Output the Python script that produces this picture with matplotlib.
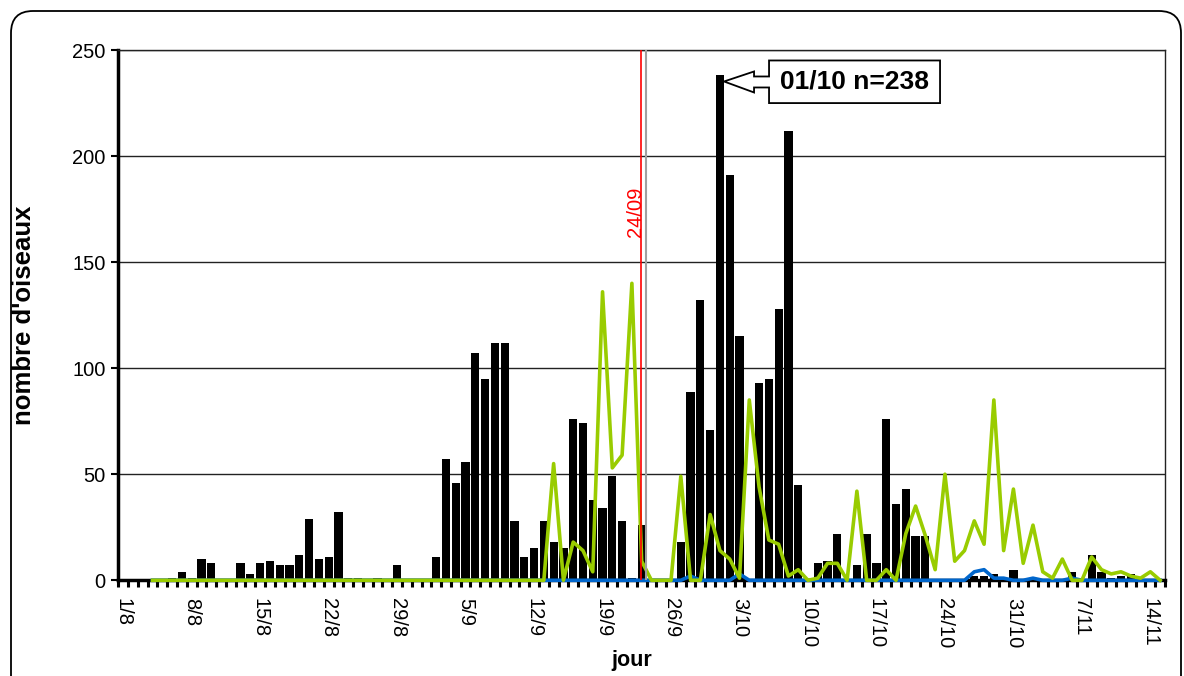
import numpy as np
import matplotlib
matplotlib.use("Agg")
import matplotlib.pyplot as plt
from matplotlib.patches import FancyBboxPatch, Polygon
from matplotlib.transforms import ScaledTranslation

plt.rcParams['font.family'] = ['Liberation Sans', 'DejaVu Sans']

# un jour par categorie, du 1/8 au 15/11
day_labels = ["1/8", "8/8", "15/8", "22/8", "29/8", "5/9", "12/9", "19/9",
              "26/9", "3/10", "10/10", "17/10", "24/10", "31/10", "7/11", "14/11"]

# nombre d'oiseaux par jour (barres noires)
counts = [0, 0, 0, 0, 0, 1, 4, 1, 10, 8,
          0, 0, 8, 3, 8, 9, 7, 7, 12, 29,
          10, 11, 32, 1, 1, 0, 1, 0, 7, 0,
          0, 0, 11, 57, 46, 56, 107, 95, 112, 112,
          28, 11, 15, 28, 18, 15, 76, 74, 38, 34,
          49, 28, 1, 26, 0, 0, 0, 18, 89, 132,
          71, 238, 191, 115, 0, 93, 95, 128, 212, 45,
          0, 8, 9, 22, 0, 7, 22, 8, 76, 36,
          43, 21, 21, 0, 0, 0, 0, 2, 2, 3,
          0, 5, 0, 0, 0, 0, 0, 4, 0, 12,
          4, 1, 2, 3, 0, 0, 0]

# series en lignes, a partir du 4/8
line_start = 3
green_vals = [0] * 41 + [55, 0, 18, 14, 4, 136, 53, 59, 140, 9,
              0, 0, 0, 49, 0, 0, 31, 14, 10, 1,
              85, 44, 19, 17, 2, 5, 0, 1, 8, 8,
              0, 42, 0, 0, 5, 0, 22, 35, 21, 5,
              50, 9, 14, 28, 17, 85, 14, 43, 8, 26,
              4, 1, 10, 0, 0, 11, 5, 3, 4, 2,
              1, 4, 0]
blue_vals = ([0] * 55 + [2] + [0] * 4 + [3] + [0] * 23
             + [4, 5, 1, 1, 0, 0, 1, 0, 0, 0, 1] + [0] * 9)

peak_day = 61
peak_text = "01/10 n=238"
marker_text = "24/09"
marker_x = 52.95
gray_x = 53.45

fig = plt.figure(figsize=(11.84, 6.76), dpi=100)
ax = fig.add_axes([0.0999, 0.1416, 0.8841, 0.7844])

days = np.arange(len(counts))
ax.bar(days, counts, width=0.84, color='black', zorder=2)

xl = np.arange(line_start, line_start + len(blue_vals))
ax.plot(xl, blue_vals, color='#0066CC', lw=2.6, zorder=4, clip_on=False)
xg = np.arange(line_start, line_start + len(green_vals))
ax.plot(xg, green_vals, color='#99CC00', lw=2.6, zorder=5, clip_on=False)

ax.axvline(gray_x, color='#A0A0A0', lw=1.5, zorder=6)
ax.axvline(marker_x, color='red', lw=1.2, zorder=7)
ax.text(marker_x + 0.35, 162, marker_text, rotation=90, color='red',
        fontsize=14.5, ha='right', va='bottom', zorder=7)

ax.set_xlim(-0.5, len(counts) - 0.5)
ax.set_ylim(0, 250)
ax.set_yticks(np.arange(0, 251, 50))
ax.yaxis.grid(True, color='#222222', lw=1)
ax.set_axisbelow(True)

ax.set_xticks(np.arange(len(day_labels)) * 7)
ax.set_xticklabels(day_labels, rotation=-90, fontsize=14.5)
ax.set_xticks(np.arange(-0.5, len(counts)), minor=True)
ax.tick_params(axis='x', which='major', length=0, pad=13)
ax.tick_params(axis='x', which='minor', length=5, width=2.2, direction='out')
ax.tick_params(axis='y', length=5, width=1.5, labelsize=14.5, pad=4)

for s in ['left', 'bottom']:
    ax.spines[s].set_linewidth(2.5)
for s in ['top', 'right']:
    ax.spines[s].set_linewidth(1)
    ax.spines[s].set_color('#222222')

ax.set_ylabel("nombre d'oiseaux", fontsize=18.5, fontweight='bold')
ax.yaxis.set_label_coords(-0.079, 0.5)
ax.set_xlabel("jour", fontsize=15.5, fontweight='bold', va='top')
ax.xaxis.set_label_coords(0.491, -0.131)

# bulle de l'annotation (fleche vers la gauche), en pixels par rapport au sommet de la barre
trans = fig.dpi_scale_trans + ScaledTranslation(peak_day + 0.42, counts[peak_day], ax.transData)
shape = np.array([[0, -6], [30, 4], [30, -1], [45, -1], [45, 15], [216, 15],
                  [216, -27.6], [45, -27.6], [45, -12], [30, -12], [30, -17]]) / 100.0
ax.add_patch(Polygon(shape, closed=True, facecolor='white', edgecolor='black',
                     lw=1.3, transform=trans, clip_on=False, zorder=10))
ax.text(1.305, -0.063, peak_text, transform=trans, ha='center', va='center',
        fontsize=19, fontweight='bold', zorder=11)

# cadre arrondi du graphique
fig.patches.append(FancyBboxPatch((0.11, -0.3), 11.70, 6.95,
                                  boxstyle="round,pad=0,rounding_size=0.22",
                                  transform=fig.dpi_scale_trans, facecolor='none',
                                  edgecolor='black', lw=1.3))

fig.savefig("out.png", dpi=100)
